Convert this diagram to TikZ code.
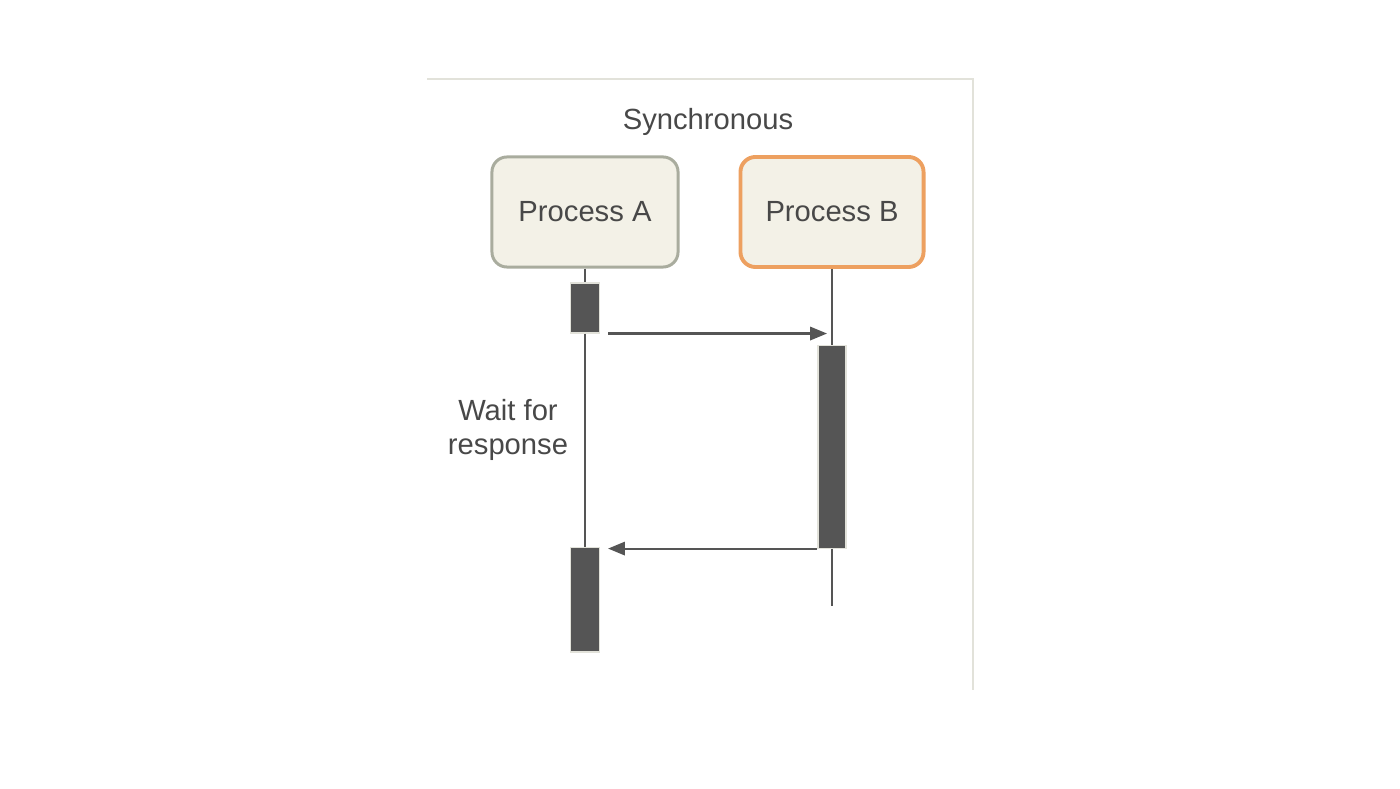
\documentclass[tikz,border=0pt]{standalone}
\usepackage{fontspec}
\setmainfont{Liberation Sans}
\usetikzlibrary{positioning,arrows.meta}
\definecolor{ink}{HTML}{555555}
\definecolor{txt}{HTML}{484848}
\definecolor{paper}{HTML}{F3F1E7}
\definecolor{greyline}{HTML}{A9AC9E}
\definecolor{orangeline}{HTML}{EDA060}
\definecolor{framecol}{HTML}{E2E2DA}
\begin{document}
\begin{tikzpicture}[x=0.01cm, y=-0.01cm,
    every node/.style={font=\fontsize{8.3pt}{9.7pt}\selectfont, text=txt},
    proc/.style={rectangle, rounded corners=0.15cm, fill=paper,
                 minimum height=1.1cm, inner sep=0pt},
    act/.style={rectangle, fill=ink, draw=framecol, line width=0.3pt,
                minimum width=0.29cm, inner sep=0pt},
    life/.style={draw=ink, line width=0.6pt},
    msg/.style={draw=ink, line width=0.6pt,
                -{Triangle[length=4.8pt, width=3.8pt]}}]
 \useasboundingbox (0,0) rectangle (1400,789);
 \draw[framecol, line width=0.3pt] (427,79) -- (973,79) -- (973,690);
 \node (title) at (708,122) {Synchronous};
   \node[proc, draw=greyline, line width=0.85pt, minimum width=1.86cm]
        (pa) at (585,212) {Process A};
   \node[proc, draw=orangeline, line width=1.1pt, minimum width=1.83cm]
        (pb) at (832,212) {Process B};
   \node[act, minimum height=0.5cm]  (a1) at (585,308) {};
   \node[act, minimum height=2.02cm, minimum width=0.28cm] (b1) at (832,447) {};
   \node[act, minimum height=1.04cm] (a2) at (585,600) {};
   \coordinate (bend) at (832,606);
   \path[life] (pa.south) -- (a1.north)
               (a1.south) -- (a2.north)
               (pb.south) -- (b1.north)
               (b1.south) -- (bend);
   \draw[msg] ([xshift=0.08cm]a1.south east)
           -- ([xshift=-0.05cm]a1.south east -| pb.south);
   \draw[msg] (b1.south west) -- ([xshift=0.08cm]b1.south west -| a2.east);
 \node[align=center] (wait) at (508,430) {Wait for\\response};
\end{tikzpicture}
\end{document}
